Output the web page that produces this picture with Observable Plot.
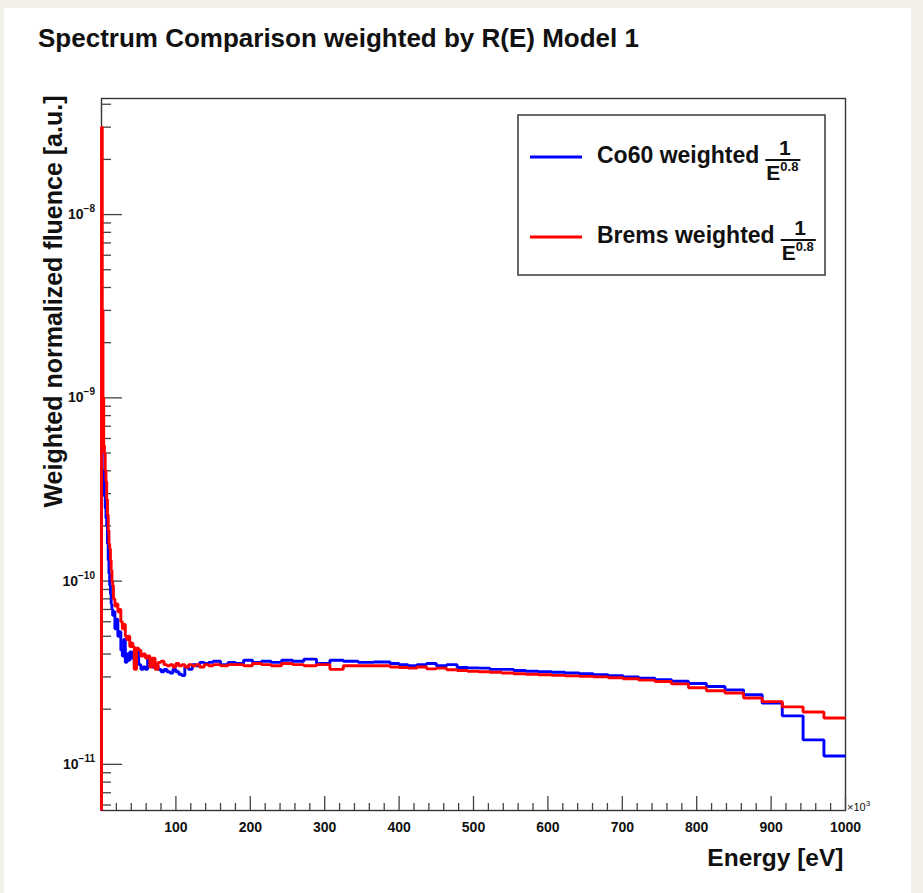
<!DOCTYPE html>
<html><head><meta charset="utf-8">
<script src="https://cdn.jsdelivr.net/npm/d3@7"></script>
<script src="https://cdn.jsdelivr.net/npm/@observablehq/plot@0.6"></script>
<style>
html,body{margin:0;padding:0;background:#f3f0e8;}
#page{position:relative;width:923px;height:893px;overflow:hidden;background:#f3f0e8;font-family:"Liberation Sans",Arial,Helvetica,sans-serif;}
#panel{position:absolute;left:4px;top:8px;width:907px;height:885px;background:#fff;}
#chart{position:absolute;left:0;top:0;}
#title{position:absolute;left:34px;top:17px;font-size:26px;font-weight:bold;line-height:26px;color:#111;white-space:nowrap;z-index:2;}
</style></head><body>
<div id="page"><div id="panel"><div id="chart"></div><div id="title">Spectrum Comparison weighted by R(E) Model 1</div></div></div>
<script>
// ---- data (energy in units of 10^3 eV, bin edges) ----
const binEdges = [0,1,2,3,4,5,6,7,8,9,10,11,12,13,14,15,16,18,20,22,24,26,28,30,32,34,36,38,40,42,44,47,50,53,56,59,62,65,68,72,76,80,84,88,92,96,100,104,108,112,117,122,127,132,138,144,
  150,160,170,180,191,203,215,228,242,257,272,289,307,325,345,366,388,
  400,412,424,437,450,464,478,492,507,522,538,554,570,587,605,623,642,661,681,701,722,744,766,789,813,838,863,888,915,943,971,1000];

const co60 = [1.05e-9,3.8e-10,3.0e-10,4.0e-10,2.9e-10,2.5e-10,2.2e-10,2.0e-10,1.6e-10,1.3e-10,1.1e-10,9.5e-11,8.5e-11,7.5e-11,7.0e-11,6.5e-11,6.8e-11,
  5.5e-11,6.2e-11,5.0e-11,5.3e-11,4.2e-11,3.9e-11,4.8e-11,3.6e-11,4.0e-11,3.7e-11,4.1e-11,3.8e-11,4.1e-11,3.5e-11,
  4.2e-11,3.5e-11,3.3e-11,3.4e-11,3.3e-11,3.75e-11,3.5e-11,3.4e-11,
  3.45e-11,3.3e-11,3.2e-11,3.3e-11,3.2e-11,3.15e-11,3.3e-11,3.2e-11,
  3.1e-11,3.05e-11,3.4e-11,3.3e-11,3.5e-11,3.45e-11,3.6e-11,3.55e-11,3.6e-11,
  3.65e-11,3.5e-11,3.6e-11,3.55e-11,3.7e-11,3.6e-11,3.65e-11,3.6e-11,3.7e-11,3.65e-11,3.75e-11,3.55e-11,3.7e-11,3.65e-11,3.6e-11,3.62e-11,3.55e-11,
  3.5e-11,3.45e-11,3.5e-11,3.55e-11,3.45e-11,3.5e-11,3.38e-11,3.36e-11,3.35e-11,3.3e-11,3.3e-11,3.25e-11,3.22e-11,3.2e-11,3.18e-11,3.15e-11,
  3.12e-11,3.08e-11,3.05e-11,3.0e-11,2.95e-11,2.9e-11,2.84e-11,2.76e-11,2.66e-11,2.55e-11,2.4e-11,2.16e-11,1.84e-11,1.36e-11,1.11e-11];

const brems = [3.0e-8,3.0e-9,1.0e-9,5.5e-10,5.0e-10,4.0e-10,3.5e-10,2.8e-10,2.3e-10,1.9e-10,1.6e-10,1.5e-10,1.3e-10,1.15e-10,1.0e-10,9.5e-11,8.0e-11,
  7.3e-11,7.5e-11,6.8e-11,7.0e-11,6.0e-11,5.5e-11,5.8e-11,5.0e-11,4.8e-11,5.0e-11,4.4e-11,4.6e-11,4.4e-11,3.3e-11,
  4.3e-11,4.2e-11,3.9e-11,4.0e-11,3.8e-11,3.9e-11,3.4e-11,3.8e-11,
  3.3e-11,3.6e-11,3.65e-11,3.5e-11,3.45e-11,3.5e-11,3.4e-11,3.55e-11,
  3.45e-11,3.5e-11,3.4e-11,3.5e-11,3.45e-11,3.5e-11,3.4e-11,3.5e-11,3.45e-11,
  3.5e-11,3.45e-11,3.5e-11,3.5e-11,3.45e-11,3.55e-11,3.5e-11,3.45e-11,3.55e-11,3.5e-11,3.45e-11,3.5e-11,3.3e-11,3.45e-11,3.45e-11,3.45e-11,3.4e-11,
  3.38e-11,3.35e-11,3.4e-11,3.32e-11,3.35e-11,3.28e-11,3.25e-11,3.22e-11,3.2e-11,3.18e-11,3.15e-11,3.12e-11,3.1e-11,3.08e-11,3.06e-11,3.04e-11,
  3.02e-11,3.0e-11,2.97e-11,2.93e-11,2.88e-11,2.83e-11,2.75e-11,2.62e-11,2.52e-11,2.45e-11,2.3e-11,2.2e-11,2.06e-11,1.93e-11,1.79e-11];

const seriesNames = ["Co60 weighted", "Brems weighted"];
const seriesColors = ["#0000ff", "#ff0000"];
const weightExponent = "0.8";
const xTickLabels = [100,200,300,400,500,600,700,800,900,1000];
const yTickExponents = [-11,-10,-9,-8];
const xDomain = [0, 1000];
const yDomain = [5.6e-12, 4.3e-8];

// ---- layout ----
const W = 907, H = 885, mL = 97, mR = 66, mT = 90, mB = 83;
const plotW = W - mL - mR, plotH = H - mT - mB;
const font = '"Liberation Sans", Arial, Helvetica, sans-serif';

function steps(vals) {
  const pts = [{E: binEdges[0], v: yDomain[0]}];
  vals.forEach((v, i) => pts.push({E: binEdges[i], v}));
  pts.push({E: binEdges[binEdges.length - 1], v: vals[vals.length - 1]});
  return pts;
}

const xMinor = d3.range(0, 1001, 20).filter(d => d % 100 !== 0);
const xMajor = [0, ...xTickLabels];
const yMajor = yTickExponents.map(e => Math.pow(10, e));
const yMinor = [];
for (let e = -12; e <= -8; e++) for (let k = 2; k <= 9; k++) {
  const v = k * Math.pow(10, e);
  if (v >= yDomain[0] && v <= yDomain[1]) yMinor.push(v);
}

const tickStyle = {stroke: "#444", strokeWidth: 1.3};
const lineStyle = {x: "E", y: "v", curve: "step-after", strokeWidth: 2.9, strokeLinejoin: "miter", strokeLinecap: "butt"};
const chart = Plot.plot({
  width: W, height: H,
  marginLeft: mL, marginRight: mR, marginTop: mT, marginBottom: mB,
  style: {background: "transparent", fontFamily: font, overflow: "visible"},
  x: {domain: xDomain, axis: null},
  y: {type: "log", domain: yDomain, axis: null},
  marks: [
    Plot.frame({stroke: "#333", strokeWidth: 1.4}),
    Plot.tickX(xMinor, {x: d => d, insetTop: plotH - 7, ...tickStyle}),
    Plot.tickX(xMajor, {x: d => d, insetTop: plotH - 14, ...tickStyle}),
    Plot.tickY(yMinor, {y: d => d, insetRight: plotW - 10, ...tickStyle}),
    Plot.tickY(yMajor, {y: d => d, insetRight: plotW - 21, ...tickStyle}),
    Plot.line(steps(co60), {...lineStyle, stroke: seriesColors[0]}),
    Plot.line(steps(brems), {...lineStyle, stroke: seriesColors[1]}),
    Plot.text(xTickLabels, {x: d => d, frameAnchor: "bottom", lineAnchor: "top", dy: 12, text: d => String(d), fontSize: 14, fontWeight: "bold", fill: "#111"}),
    Plot.text(["Energy [eV]"], {frameAnchor: "bottom-right", textAnchor: "end", lineAnchor: "bottom", dx: -2, dy: 55, fontSize: 24.5, fontWeight: "bold", fill: "#111"}),
    Plot.text(["Weighted normalized fluence [a.u.]"], {frameAnchor: "top-left", rotate: -90, textAnchor: "end", lineAnchor: "bottom", dx: -40, dy: -3, fontSize: 25, fontWeight: "bold", fill: "#111"})
  ]
});
document.getElementById("chart").appendChild(chart);

const svg = d3.select(chart);
const yS = chart.scale("y");
// y tick labels 10^e
yTickExponents.forEach(e => {
  const py = yS.apply(Math.pow(10, e));
  const t = svg.append("text").attr("x", mL - 6).attr("y", py + 5)
    .attr("text-anchor", "end").attr("font-family", font).attr("font-size", 14)
    .attr("font-weight", "bold").attr("fill", "#111").text("10");
  t.append("tspan").attr("dy", -7).attr("font-size", 10).text("\u2212" + Math.abs(e));
});
// x10^3 multiplier
const xS = chart.scale("x");
const mult = svg.append("text").attr("x", xS.apply(1000) + 2).attr("y", H - mB + 1)
  .attr("text-anchor", "start").attr("font-family", font).attr("font-size", 11).attr("fill", "#111").text("\u00d710");
mult.append("tspan").attr("dy", -5).attr("font-size", 8).text("3");

// legend
const lg = svg.append("g").attr("font-family", font).attr("font-weight", "bold").attr("fill", "#111").attr("text-anchor", "start");
lg.append("rect").attr("x", 514).attr("y", 107).attr("width", 307).attr("height", 160)
  .attr("fill", "#fff").attr("stroke", "#444").attr("stroke-width", 1.6);
const rowY = [150, 230];
seriesNames.forEach((name, i) => {
  const yc = rowY[i];
  lg.append("line").attr("x1", 526).attr("x2", 578).attr("y1", yc - 1).attr("y2", yc - 1)
    .attr("stroke", seriesColors[i]).attr("stroke-width", 3);
  const t = lg.append("text").attr("x", 593).attr("y", yc + 5).attr("text-anchor", "start").attr("font-size", 23).text(name);
  const tEnd = 593 + t.node().getComputedTextLength();
  const x0 = tEnd + 6;
  const e = lg.append("text").attr("x", x0 + 1).attr("y", yc + 22).attr("text-anchor", "start").attr("font-size", 21).text("E");
  e.append("tspan").attr("dy", -9).attr("font-size", 13).text(weightExponent);
  const w = e.node().getComputedTextLength() + 3;
  lg.append("line").attr("x1", x0).attr("x2", x0 + w).attr("y1", yc + 2).attr("y2", yc + 2)
    .attr("stroke", "#111").attr("stroke-width", 1.8);
  lg.append("text").attr("x", x0 + w / 2 + 2).attr("y", yc - 3).attr("text-anchor", "middle")
    .attr("font-size", 21).text("1");
});
</script></body></html>
